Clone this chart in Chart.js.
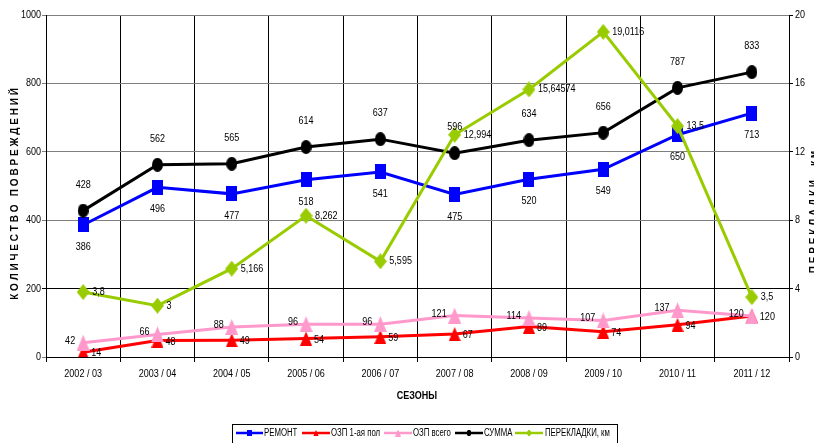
<!DOCTYPE html>
<html>
<head>
<meta charset="utf-8">
<script src="https://cdn.jsdelivr.net/npm/chart.js@4.4.0/dist/chart.umd.min.js"></script>
<style>
  html, body { margin: 0; padding: 0; background: #fff; }
  #wrap { width: 814px; height: 443px; position: relative; }
</style>
</head>
<body>
<div id="wrap"><canvas id="c" width="814" height="443"></canvas></div>
<script>
// Seasons and series
const seasons = ['2002 / 03', '2003 / 04', '2004 / 05', '2005 / 06', '2006 / 07', '2007 / 08', '2008 / 09', '2009 / 10', '2010 / 11', '2011 / 12'];
const remont = [386, 496, 477, 518, 541, 475, 520, 549, 650, 713];
const ozpFirstHalf = [14, 48, 49, 54, 59, 67, 89, 74, 94, 120];
const ozpTotal = [42, 66, 88, 96, 96, 121, 114, 107, 137, 120];
const summa = [428, 562, 565, 614, 637, 596, 634, 656, 787, 833];
const perekladki = [3.8, 3, 5.166, 8.262, 5.595, 12.994, 15.64574, 19.0116, 13.5, 3.5];

const leftTitle = 'КОЛИЧЕСТВО ПОВРЕЖДЕНИЙ';
const rightTitle = 'ПЕРЕКЛАДКИ, км';
const xTitle = 'СЕЗОНЫ';

const FONT = "'Liberation Sans', Arial, sans-serif";
const NARROW = 0.82; // horizontal squeeze to get a narrow face

// Marker bitmaps (slightly taller than wide)
function marker(shape, w, h, color) {
  const c = document.createElement('canvas');
  c.width = w; c.height = h;
  const g = c.getContext('2d');
  g.fillStyle = color;
  g.beginPath();
  if (shape === 'rect') {
    g.rect(0, 0, w, h);
  } else if (shape === 'ellipse') {
    g.ellipse(w / 2, h / 2, w / 2, h / 2, 0, 0, Math.PI * 2);
  } else if (shape === 'tri') {
    g.moveTo(w / 2, 0); g.lineTo(w, h); g.lineTo(0, h); g.closePath();
  } else if (shape === 'diamond') {
    g.moveTo(w / 2, 0); g.lineTo(w, h / 2); g.lineTo(w / 2, h); g.lineTo(0, h / 2); g.closePath();
  }
  g.fill();
  return c;
}

function nText(ctx, text, x, y, align, sx) {
  ctx.save();
  ctx.translate(x, y);
  ctx.scale(sx === undefined ? NARROW : sx, 1);
  ctx.textAlign = align;
  ctx.fillText(text, 0, 0);
  ctx.restore();
}

function spacedText(ctx, text, x, y, spacing) {
  let w = 0;
  for (const ch of text) w += ctx.measureText(ch).width + spacing;
  w -= spacing;
  let cx = x - w / 2;
  ctx.textAlign = 'left';
  for (const ch of text) {
    ctx.fillText(ch, cx, y);
    cx += ctx.measureText(ch).width + spacing;
  }
}

// Tick labels drawn in the narrow face, positioned by the chart's scales
const tickLabels = {
  id: 'tickLabels',
  afterDraw(chart) {
    const ctx = chart.ctx;
    ctx.save();
    ctx.fillStyle = '#000';
    ctx.textBaseline = 'middle';
    ctx.font = '11px ' + FONT;
    const sx = chart.scales.x, sy = chart.scales.y, sy1 = chart.scales.y1;
    sx.ticks.forEach((t, i) => nText(ctx, seasons[i], sx.getPixelForTick(i), sx.bottom - 86 + 17, 'center'));
    sy.ticks.forEach(t => nText(ctx, String(t.value), sy.right - 5, sy.getPixelForValue(t.value), 'right'));
    sy1.ticks.forEach(t => nText(ctx, String(t.value), sy1.left + 6, sy1.getPixelForValue(t.value), 'left'));
    ctx.restore();
  }
};

// Value labels next to each point
const valueLabels = {
  id: 'valueLabels',
  afterDatasetsDraw(chart) {
    const ctx = chart.ctx;
    ctx.save();
    ctx.font = '11px ' + FONT;
    ctx.fillStyle = '#000';
    ctx.textBaseline = 'middle';
    chart.data.datasets.forEach((ds, i) => {
      const meta = chart.getDatasetMeta(i);
      const lp = ds.labelPos;
      meta.data.forEach((pt, j) => {
        const txt = String(ds.data[j]).replace('.', ',');
        nText(ctx, txt, pt.x + lp.dx, pt.y + lp.dy, lp.align);
      });
    });
    ctx.restore();
  }
};

// Rotated axis titles, x title and boxed legend
const decorations = {
  id: 'decorations',
  afterDraw(chart) {
    const ctx = chart.ctx;
    ctx.save();
    ctx.fillStyle = '#000';
    ctx.textBaseline = 'middle';
    ctx.font = 'bold 10px ' + FONT;

    ctx.save();
    ctx.translate(15.5, 194);
    ctx.rotate(-Math.PI / 2);
    spacedText(ctx, leftTitle, 0, 0, 2.8);
    ctx.restore();

    ctx.save();
    ctx.translate(814, 212);
    ctx.rotate(-Math.PI / 2);
    spacedText(ctx, rightTitle, 0, 0, 2.8);
    ctx.restore();

    ctx.save();
    ctx.translate(417, 396);
    ctx.scale(0.9, 1);
    ctx.textAlign = 'center';
    ctx.fillText(xTitle, 0, 0);
    ctx.restore();

    // legend box
    const lx = 232, ly = 424, lw = 385, lh = 30;
    ctx.strokeStyle = '#000';
    ctx.lineWidth = 1;
    ctx.strokeRect(lx + 0.5, ly + 0.5, lw, lh);
    const cy = 433;
    ctx.font = '10px ' + FONT;
    const items = [
      { x0: 236, x1: 263, tx: 264, ds: 0 },
      { x0: 302, x1: 330, tx: 331, ds: 1 },
      { x0: 384, x1: 412, tx: 413, ds: 2 },
      { x0: 455, x1: 483, tx: 484, ds: 3 },
      { x0: 515, x1: 543, tx: 545, ds: 4 }
    ];
    items.forEach(it => {
      const ds = chart.data.datasets[it.ds];
      ctx.strokeStyle = ds.borderColor;
      ctx.lineWidth = 2.5;
      ctx.beginPath();
      ctx.moveTo(it.x0, cy);
      ctx.lineTo(it.x1, cy);
      ctx.stroke();
      const img = ds.pointStyle;
      const mw = img.width * 0.45, mh = img.height * 0.45;
      ctx.drawImage(img, (it.x0 + it.x1) / 2 - mw / 2, cy - mh / 2, mw, mh);
      ctx.fillStyle = '#000';
      nText(ctx, ds.label, it.tx, cy + 0.5, 'left', 0.78);
    });
    ctx.restore();
  }
};

new Chart(document.getElementById('c'), {
  type: 'line',
  data: {
    labels: seasons,
    datasets: [
      {
        label: 'РЕМОНТ', data: remont, yAxisID: 'y', order: 5,
        borderColor: '#0000ff', backgroundColor: '#0000ff',
        borderWidth: 3, pointStyle: marker('rect', 11, 15, '#0000ff'), pointRadius: 6,
        labelPos: { align: 'center', dx: 0, dy: 22 }
      },
      {
        label: 'ОЗП 1-ая пол', data: ozpFirstHalf, yAxisID: 'y', order: 4,
        borderColor: '#ff0000', backgroundColor: '#ff0000',
        borderWidth: 3, pointStyle: marker('tri', 12, 14, '#ff0000'), pointRadius: 6,
        labelPos: { align: 'left', dx: 8, dy: 1 }
      },
      {
        label: 'ОЗП всего', data: ozpTotal, yAxisID: 'y', order: 3,
        borderColor: '#ff99cc', backgroundColor: '#ff99cc',
        borderWidth: 3, pointStyle: marker('tri', 13, 16, '#ff99cc'), pointRadius: 6,
        labelPos: { align: 'right', dx: -8, dy: -2 }
      },
      {
        label: 'СУММА', data: summa, yAxisID: 'y', order: 2,
        borderColor: '#000000', backgroundColor: '#000000',
        borderWidth: 3, pointStyle: marker('ellipse', 11, 14, '#000000'), pointRadius: 6,
        labelPos: { align: 'center', dx: 0, dy: -26 }
      },
      {
        label: 'ПЕРЕКЛАДКИ, км', data: perekladki, yAxisID: 'y1', order: 1,
        borderColor: '#99cc00', backgroundColor: '#99cc00',
        borderWidth: 3, pointStyle: marker('diamond', 13, 16, '#99cc00'), pointRadius: 6,
        labelPos: { align: 'left', dx: 9, dy: 0 }
      }
    ]
  },
  options: {
    responsive: false,
    animation: false,
    events: [],
    layout: { padding: { top: 15, left: 0, right: 0, bottom: 0 } },
    elements: { line: { tension: 0 } },
    plugins: { legend: { display: false }, tooltip: { enabled: false } },
    scales: {
      x: {
        offset: true,
        grid: { offset: true, color: '#000', lineWidth: 1, tickLength: 5 },
        border: { color: '#000', width: 1 },
        ticks: { display: false, autoSkip: false },
        afterFit(s) { s.height = 86; }
      },
      y: {
        position: 'left', min: 0, max: 1000,
        grid: {
          color: c => (c.tick && c.tick.value === 200) ? '#000' : '#7f7f7f',
          lineWidth: 1, tickLength: 4
        },
        border: { color: '#000', width: 1 },
        ticks: { stepSize: 200, display: false },
        afterFit(s) { s.width = 46; }
      },
      y1: {
        position: 'right', min: 0, max: 20,
        grid: { drawOnChartArea: false, color: '#000', tickLength: 4 },
        border: { color: '#000', width: 1 },
        ticks: { stepSize: 4, display: false },
        afterFit(s) { s.width = 25; }
      }
    }
  },
  plugins: [valueLabels, tickLabels, decorations]
});
</script>
</body>
</html>
